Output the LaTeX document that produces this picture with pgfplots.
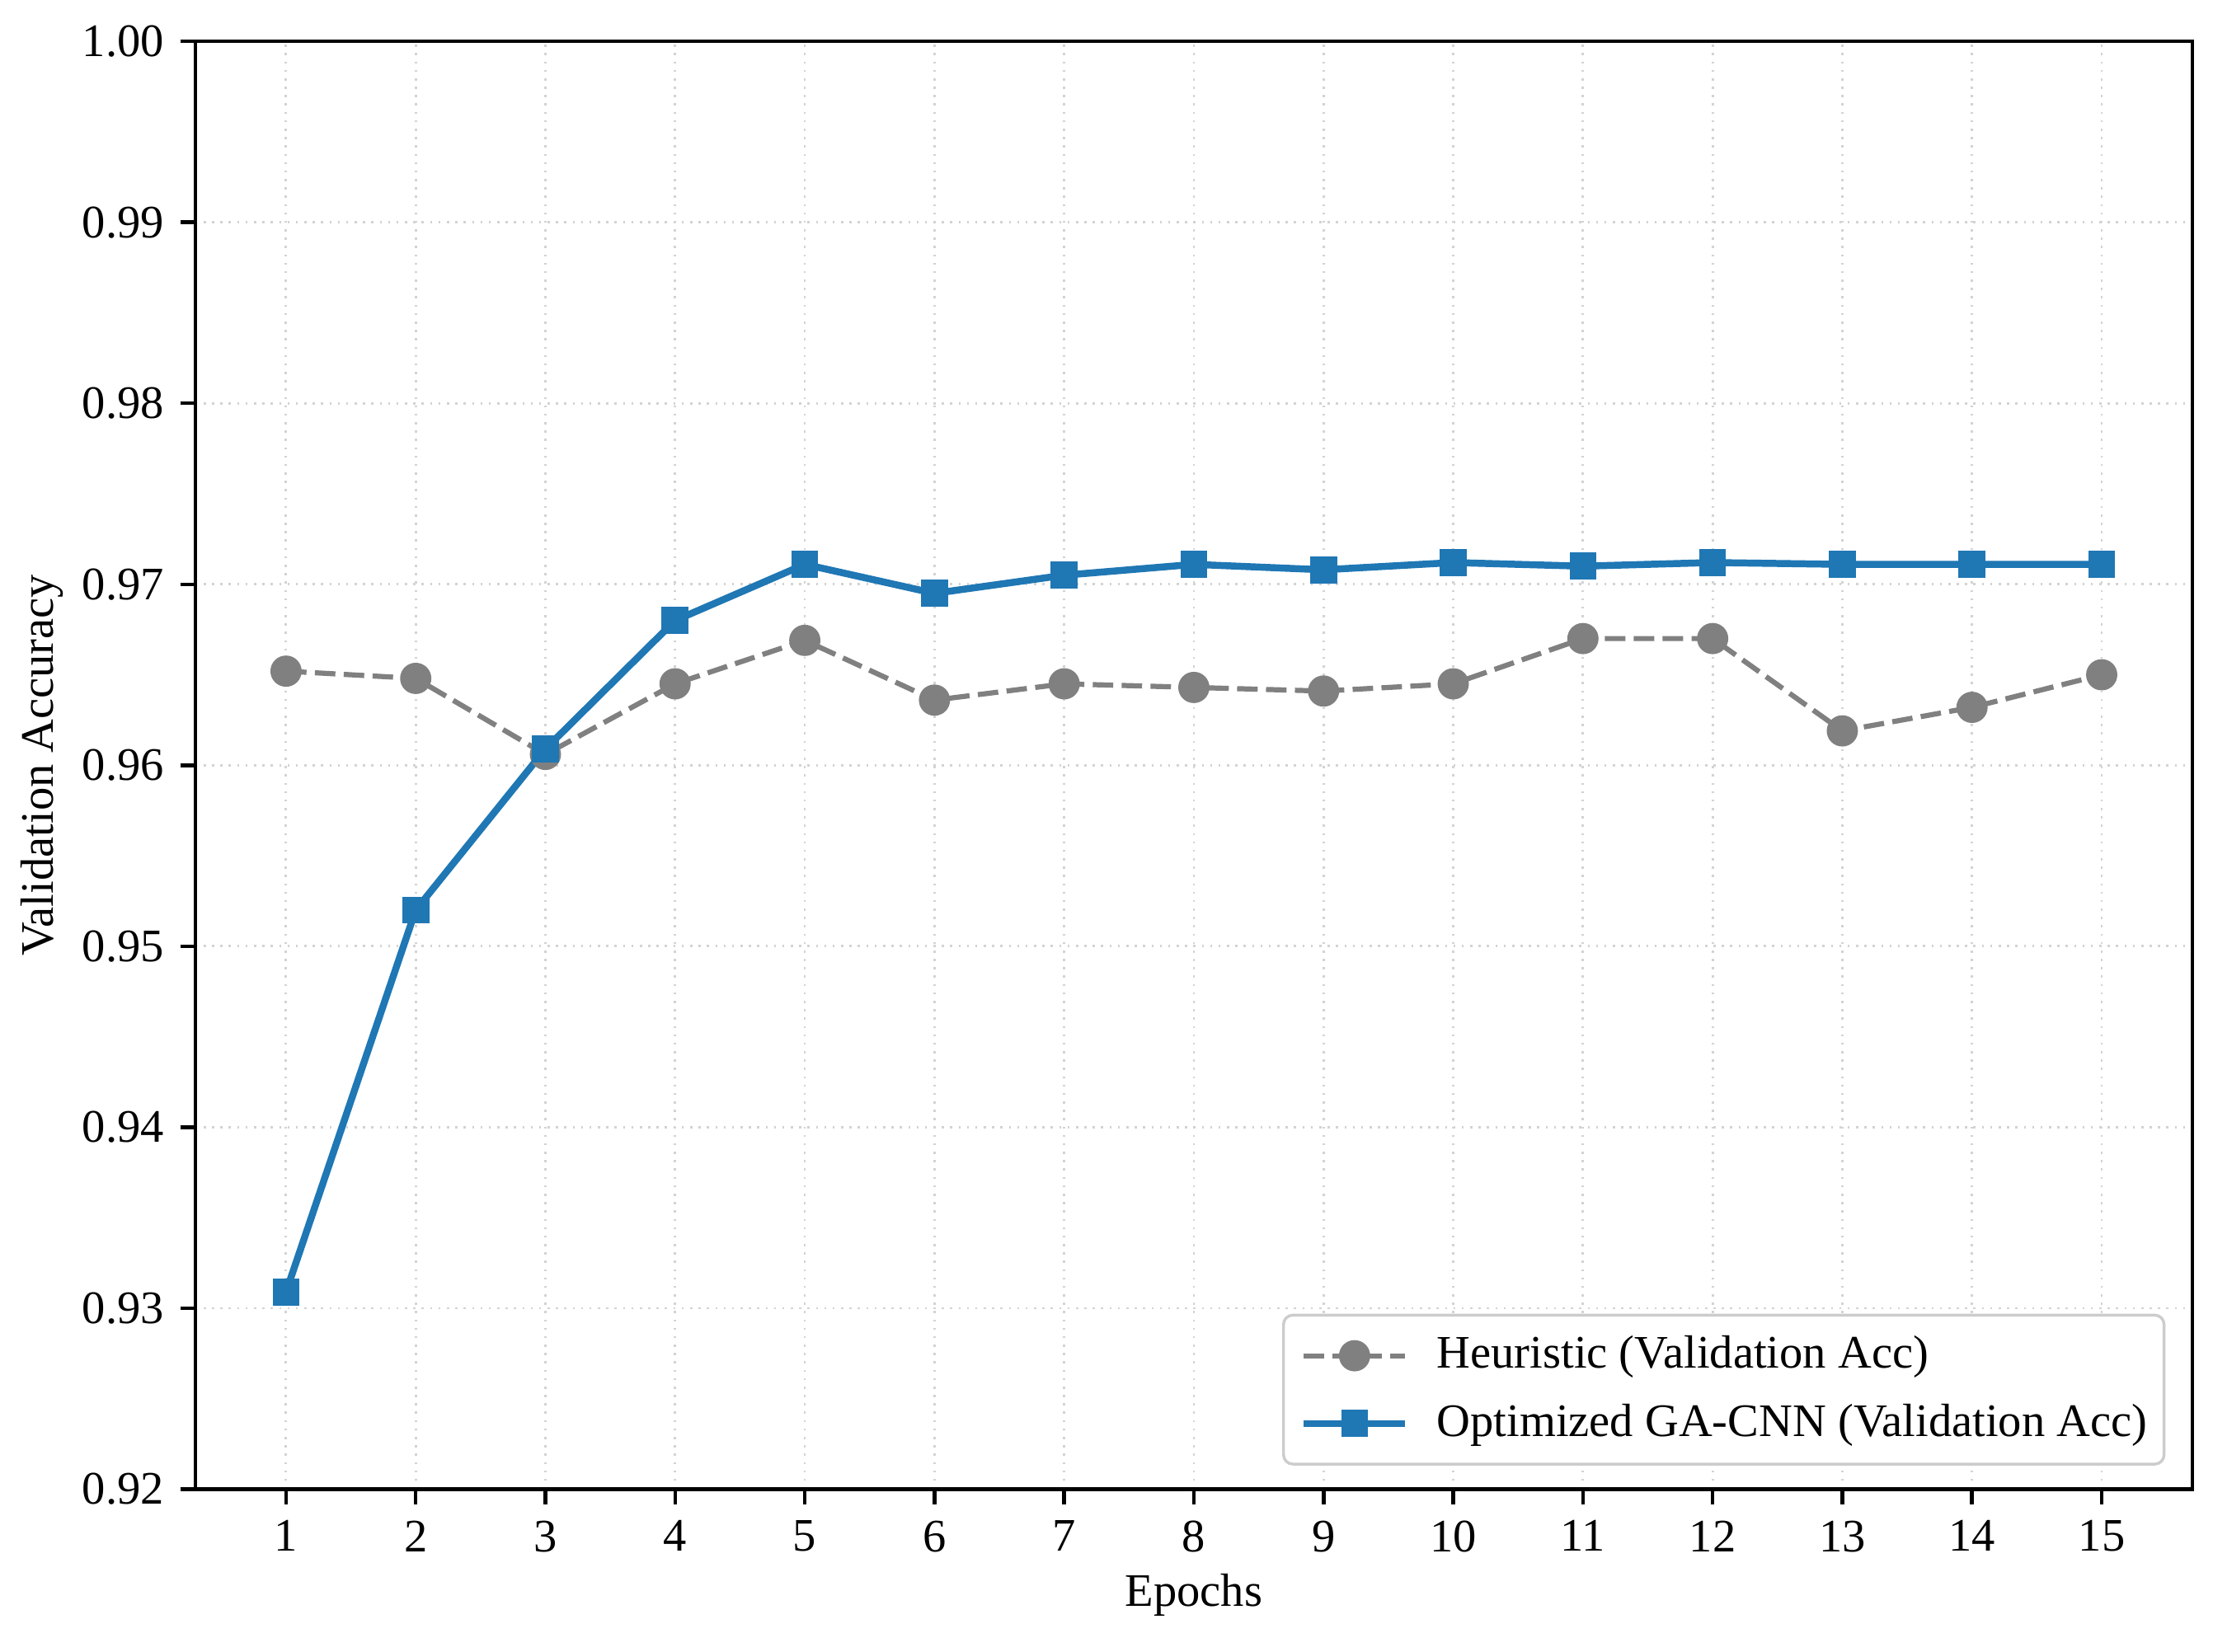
\documentclass[border=0pt]{standalone}
\usepackage{fontspec}
\setmainfont{Liberation Serif}
\usepackage{pgfplots}
\pgfplotsset{compat=1.18}
\definecolor{mblue}{HTML}{1F77B4}
\definecolor{mgray}{HTML}{808080}
\definecolor{gridc}{HTML}{D3D3D3}
\definecolor{legc}{HTML}{CCCCCC}
\begin{document}
\begin{tikzpicture}
\begin{axis}[
  scale only axis,
  width=428.6pt, height=310.8pt,
  xmin=0.3, xmax=15.7,
  ymin=0.92, ymax=1.00,
  xtick={1,...,15},
  ytick={0.92,0.93,0.94,0.95,0.96,0.97,0.98,0.99,1.00},
  /pgf/number format/assume math mode=true,
  yticklabel style={/pgf/number format/.cd, fixed, fixed zerofill, precision=2},
  ticklabel style={font=\fontsize{10}{12}\selectfont},
  tick align=outside,
  major tick length=3.2pt,
  tick style={black, line width=0.8pt},
  axis line style={black, line width=0.8pt},
  xtick pos=bottom, ytick pos=left,
  grid=major,
  major grid style={gridc, line width=0.5pt, dash pattern=on 0.45pt off 1.35pt},
  xlabel={Epochs},
  ylabel={Validation Accuracy},
  label style={font=\fontsize{10}{12}\selectfont},
  xlabel style={at={(axis description cs:0.5,-0.073)}, anchor=center},
  ylabel style={at={(axis description cs:-0.0768,0.5)}, anchor=center},
  legend cell align=left,
  legend style={
    at={(axis description cs:1,0)}, anchor=south east,
    xshift=-5.8pt, yshift=5.1pt,
    draw=legc, line width=0.6pt, rounded corners=2pt, fill=white,
    font=\fontsize{10}{12}\selectfont,
    inner xsep=3.6pt, inner ysep=4.5pt,
    row sep=6.1pt, column sep=0pt,
    nodes={inner sep=0pt, anchor=west},
    /tikz/every odd column/.append style={column sep=6pt},
  },
  legend image code/.code={
    \draw[mark repeat=2, mark phase=2, #1] plot coordinates {(0pt,0pt) (10.9pt,0pt) (21.8pt,0pt)};
  },
]
\addplot[mgray, line width=1.1pt, dash pattern=on 4.4pt off 1.8pt, mark=*, mark size=2.8pt,
  mark options={solid, fill=mgray, draw=mgray}]
  coordinates {
  (1,0.9652) (2,0.9648) (3,0.9606) (4,0.9645) (5,0.9669)
  (6,0.9636) (7,0.9645) (8,0.9643) (9,0.9641) (10,0.9645)
  (11,0.9670) (12,0.9670) (13,0.9619) (14,0.9632) (15,0.9650)
  };
\addlegendentry{Heuristic (Validation Acc)}
\addplot[mblue, line width=1.5pt, mark=square*, mark size=2.8pt,
  mark options={solid, fill=mblue, draw=mblue, line width=0pt}]
  coordinates {
  (1,0.9309) (2,0.9520) (3,0.9609) (4,0.9680) (5,0.9711)
  (6,0.9695) (7,0.9705) (8,0.9711) (9,0.9708) (10,0.9712)
  (11,0.9710) (12,0.9712) (13,0.9711) (14,0.9711) (15,0.9711)
  };
\addlegendentry{Optimized GA-CNN (Validation Acc)}
\end{axis}
\pgfresetboundingbox
\useasboundingbox (-41.9pt,-34.9pt) rectangle (433.0pt,319.65pt);
\end{tikzpicture}
\end{document}
